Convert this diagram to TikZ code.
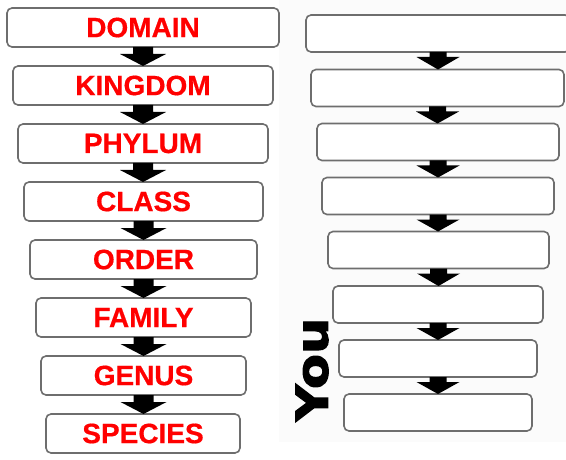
\documentclass[tikz,border=0pt]{standalone}
\usepackage{fontspec}
\usetikzlibrary{calc}
\newfontfamily\labfont{Liberation Sans Bold}[FakeBold=0.6]
\newfontfamily\youfont{DejaVu Sans Bold}[FakeBold=2.5]
\definecolor{boxline}{RGB}{110,110,110}
\definecolor{panel}{RGB}{251,251,251}
\definecolor{labred}{RGB}{255,0,0}
\tikzset{
  rankbox/.style={draw=boxline, line width=1.6pt, rounded corners=5pt, fill=white,
    inner sep=0pt, outer sep=0pt, minimum height=39pt},
  blankbox/.style={draw=boxline, line width=1.6pt, rounded corners=5pt, fill=white,
    inner sep=0pt, outer sep=0pt, minimum height=37pt},
  ranklabel/.style={text=labred, font=\labfont\fontsize{28pt}{28pt}\selectfont}
}
% block arrow: #1 from node, #2 to node, #3 half shaft width, #4 half head width, #5 shaft length
\newcommand\blockarrow[5]{%
  \fill[black] let \p1=(#1.south), \p2=(#2.north) in
    (\x1-#3,\y1) -- (\x1-#3,\y1-#5) -- (\x1-#4,\y1-#5) -- (\x1,\y2)
    -- (\x1+#4,\y1-#5) -- (\x1+#3,\y1-#5) -- (\x1+#3,\y1) -- cycle;}
\begin{document}
\begin{tikzpicture}[x=1pt,y=-1pt]
\useasboundingbox (0,0) rectangle (566,460);
\clip (0,0) rectangle (566,460);
\fill[white] (0,0) rectangle (566,460);
\fill[panel] (279,0) rectangle (566,442);

% left column
\node[rankbox, ranklabel, minimum width=272pt] (l1) at (143,27.5) {DOMAIN};
\node[rankbox, ranklabel, minimum width=260pt] (l2) at (143,85.5) {KINGDOM};
\node[rankbox, ranklabel, minimum width=250pt] (l3) at (143,143.5) {PHYLUM};
\node[rankbox, ranklabel, minimum width=239pt] (l4) at (143.5,201.5) {CLASS};
\node[rankbox, ranklabel, minimum width=227pt] (l5) at (143.5,259.5) {ORDER};
\node[rankbox, ranklabel, minimum width=215pt] (l6) at (143.5,317.5) {FAMILY};
\node[rankbox, ranklabel, minimum width=205pt] (l7) at (143.5,375.5) {GENUS};
\node[rankbox, ranklabel, minimum width=194pt] (l8) at (143,433.5) {SPECIES};

\foreach \a/\b in {l1/l2,l2/l3,l3/l4,l4/l5,l5/l6,l6/l7,l7/l8}
  {\blockarrow{\a}{\b}{10pt}{23pt}{7pt}}

% right column
\node[blankbox, minimum width=264pt] (r1) at (438,33.5) {};
\node[blankbox, minimum width=253pt] (r2) at (437.5,88) {};
\node[blankbox, minimum width=242pt] (r3) at (438,142) {};
\node[blankbox, minimum width=232pt] (r4) at (438,196) {};
\node[blankbox, minimum width=221pt] (r5) at (438.5,250) {};
\node[blankbox, minimum width=210pt] (r6) at (438,304.5) {};
\node[blankbox, minimum width=198pt] (r7) at (438,358.5) {};
\node[blankbox, minimum width=188pt] (r8) at (438,412.5) {};

\foreach \a/\b in {r1/r2,r2/r3,r3/r4,r4/r5,r5/r6,r6/r7,r7/r8}
  {\blockarrow{\a}{\b}{8.5pt}{21.5pt}{5pt}}

\node[rotate=90, inner sep=0pt, font=\youfont\fontsize{44pt}{44pt}\selectfont] (you) at (312,369.5) {\scalebox{1.16}[1]{You}};
\end{tikzpicture}
\end{document}
